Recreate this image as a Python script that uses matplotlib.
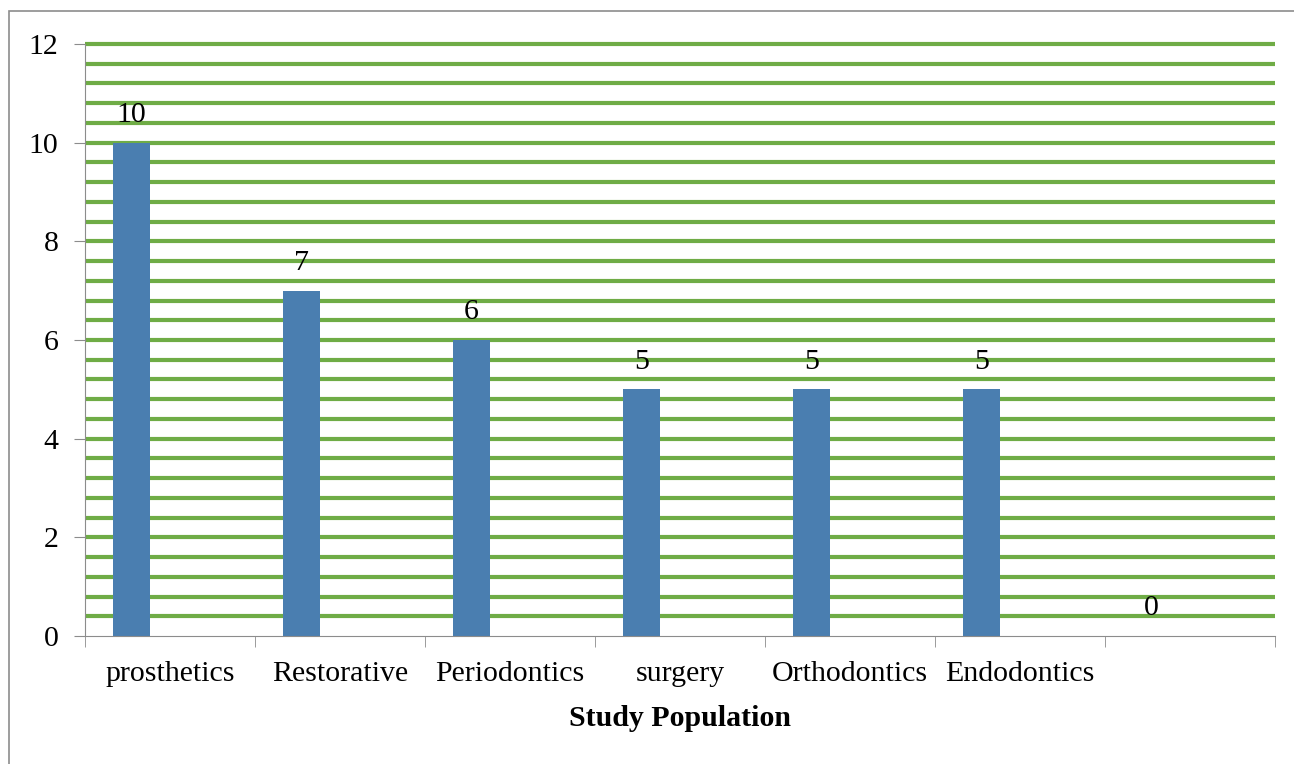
import numpy as np
import matplotlib.pyplot as plt
from matplotlib.patches import Rectangle

categories = ['prosthetics', 'Restorative', 'Periodontics', 'surgery',
              'Orthodontics', 'Endodontics', '']
counts = [10, 7, 6, 5, 5, 5, 0]

plt.rcParams['font.family'] = ['Liberation Serif', 'DejaVu Serif']
fs = 21.5

fig = plt.figure(figsize=(12.94, 7.64), dpi=100)
ax = fig.add_axes([85 / 1294, 1 - 636 / 764, (1275 - 85) / 1294, (636 - 44) / 764])

# outer chart frame
fig.patches.append(Rectangle((9 / 1294, -0.01), 1.02, 1 - 11 / 764 + 0.01,
                             transform=fig.transFigure, fill=False,
                             edgecolor='#8c8c8c', linewidth=1.2))

x = np.arange(len(categories))
offset = -0.226
ax.bar(x + offset, counts, width=0.218, color='#4a7eb0', zorder=3)

for xi, v in zip(x, counts):
    ax.text(xi + offset, v + 0.3, str(v), ha='center', va='bottom', fontsize=fs)

# horizontal grid every 0.4, the zero line is left to the axis
for g in np.arange(1, 31) * 0.4:
    ax.axhline(g, color='#6fac46', linewidth=3, zorder=1, clip_on=False,
               solid_capstyle='butt')

ax.set_xlim(-0.5, len(categories) - 0.5)
ax.set_ylim(0, 12)
ax.set_yticks(np.arange(0, 13, 2))
ax.tick_params(axis='y', which='major', length=8, color='#8c8c8c', labelsize=fs, pad=11)

ax.set_xticks(x)
ax.set_xticklabels(categories)
ax.set_xticks(np.arange(-0.5, len(categories), 1), minor=True)
ax.tick_params(axis='x', which='major', length=0, labelsize=fs, pad=18)
ax.tick_params(axis='x', which='minor', length=8, color='#8c8c8c')

for s in ['top', 'right']:
    ax.spines[s].set_visible(False)
ax.spines['left'].set_color('#8c8c8c')
ax.spines['bottom'].set_color('#8c8c8c')
ax.spines['left'].set_zorder(4)
ax.spines['bottom'].set_zorder(4)

ax.set_xlabel('Study Population', fontsize=fs, fontweight='bold', labelpad=13)

fig.savefig('out.png', dpi=100)
